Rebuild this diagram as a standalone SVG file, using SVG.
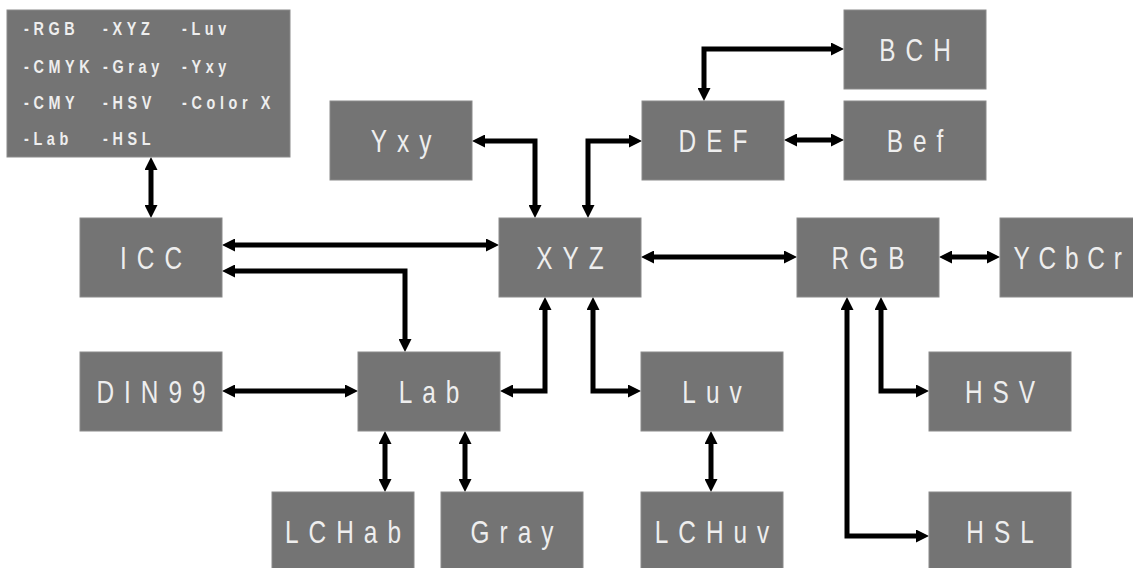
<svg xmlns="http://www.w3.org/2000/svg" width="1133" height="568" viewBox="0 0 1133 568">
<style>
.box{fill:#747474;stroke:#8a8a8a;stroke-width:1}
.lbl{font-family:"Liberation Sans",Arial,sans-serif;font-size:30.5px;fill:#eeeeee;text-anchor:middle;letter-spacing:12.5px}
.sm{font-family:"Liberation Sans",Arial,sans-serif;font-size:18px;font-weight:bold;fill:#eeeeee;letter-spacing:5.8px}
.con{fill:none;stroke:#000;stroke-width:5;stroke-linejoin:miter;marker-start:url(#ah);marker-end:url(#ah)}
</style>
<defs>
<marker id="ah" viewBox="0 0 13 13" refX="1" refY="6.5" markerWidth="13" markerHeight="13" markerUnits="userSpaceOnUse" orient="auto-start-reverse">
<path d="M0,0 L13,6.5 L0,13 z" fill="#000"/>
</marker>
</defs>
<rect width="1133" height="568" fill="#ffffff"/>
<g id="connectors">
<path class="con" d="M151,169 V206"/>
<path class="con" d="M234,245 H487"/>
<path class="con" d="M234,271 H405 V340"/>
<path class="con" d="M484,141 H535 V206"/>
<path class="con" d="M588,206 V141 H630"/>
<path class="con" d="M704,89 V49 H832"/>
<path class="con" d="M796,140 H832"/>
<path class="con" d="M653,257 H785"/>
<path class="con" d="M951,257 H988"/>
<path class="con" d="M545,309 V391 H512"/>
<path class="con" d="M593,309 V391 H629"/>
<path class="con" d="M234,391 H346"/>
<path class="con" d="M385,443 V480"/>
<path class="con" d="M465,443 V480"/>
<path class="con" d="M711,443 V480"/>
<path class="con" d="M881,309 V391 H917"/>
<path class="con" d="M847,309 V536 H917"/>
</g>
<g id="node-list">
<rect class="box" x="7" y="10" width="283" height="147"/>
<text class="sm" transform="translate(24,35) scale(0.8,1)">-RGB</text>
<text class="sm" transform="translate(103,35) scale(0.8,1)">-XYZ</text>
<text class="sm" transform="translate(182,35) scale(0.8,1)">-Luv</text>
<text class="sm" transform="translate(24,72.5) scale(0.8,1)">-CMYK</text>
<text class="sm" transform="translate(103,72.5) scale(0.8,1)">-Gray</text>
<text class="sm" transform="translate(182,72.5) scale(0.8,1)">-Yxy</text>
<text class="sm" transform="translate(24,108.5) scale(0.8,1)">-CMY</text>
<text class="sm" transform="translate(103,108.5) scale(0.8,1)">-HSV</text>
<text class="sm" transform="translate(182,108.5) scale(0.8,1)">-Color X</text>
<text class="sm" transform="translate(24,144.5) scale(0.8,1)">-Lab</text>
<text class="sm" transform="translate(103,144.5) scale(0.8,1)">-HSL</text>
</g>
<g id="node-BCH"><rect class="box" x="844" y="10" width="142" height="79"/><text class="lbl" transform="translate(920,61) scale(0.8,1)">BCH</text></g>
<g id="node-Yxy"><rect class="box" x="330" y="101" width="142" height="79"/><text class="lbl" transform="translate(406,152) scale(0.8,1)">Yxy</text></g>
<g id="node-DEF"><rect class="box" x="642" y="101" width="142" height="79"/><text class="lbl" transform="translate(718,152) scale(0.8,1)">DEF</text></g>
<g id="node-Bef"><rect class="box" x="844" y="101" width="142" height="79"/><text class="lbl" transform="translate(920,152) scale(0.8,1)">Bef</text></g>
<g id="node-ICC"><rect class="box" x="80" y="218" width="142" height="79"/><text class="lbl" transform="translate(156,269) scale(0.8,1)">ICC</text></g>
<g id="node-XYZ"><rect class="box" x="499" y="218" width="142" height="79"/><text class="lbl" transform="translate(575,269) scale(0.8,1)">XYZ</text></g>
<g id="node-RGB"><rect class="box" x="797" y="218" width="142" height="79"/><text class="lbl" transform="translate(873,269) scale(0.8,1)">RGB</text></g>
<g id="node-YCbCr"><rect class="box" x="1000" y="218" width="142" height="79"/><text class="lbl" style="letter-spacing:11px" transform="translate(1072,269) scale(0.8,1)">YCbCr</text></g>
<g id="node-DIN99"><rect class="box" x="80" y="352" width="142" height="79"/><text class="lbl" transform="translate(156,403) scale(0.8,1)">DIN99</text></g>
<g id="node-Lab"><rect class="box" x="358" y="352" width="142" height="79"/><text class="lbl" transform="translate(434,403) scale(0.8,1)">Lab</text></g>
<g id="node-Luv"><rect class="box" x="641" y="352" width="142" height="79"/><text class="lbl" transform="translate(717,403) scale(0.8,1)">Luv</text></g>
<g id="node-HSV"><rect class="box" x="929" y="352" width="142" height="79"/><text class="lbl" transform="translate(1005,403) scale(0.8,1)">HSV</text></g>
<g id="node-LCHab"><rect class="box" x="272" y="492" width="142" height="79"/><text class="lbl" transform="translate(348,543) scale(0.8,1)">LCHab</text></g>
<g id="node-Gray"><rect class="box" x="441" y="492" width="142" height="79"/><text class="lbl" transform="translate(517,543) scale(0.8,1)">Gray</text></g>
<g id="node-LCHuv"><rect class="box" x="641" y="492" width="142" height="79"/><text class="lbl" transform="translate(717,543) scale(0.8,1)">LCHuv</text></g>
<g id="node-HSL"><rect class="box" x="929" y="492" width="142" height="79"/><text class="lbl" transform="translate(1005,543) scale(0.8,1)">HSL</text></g>
</svg>
